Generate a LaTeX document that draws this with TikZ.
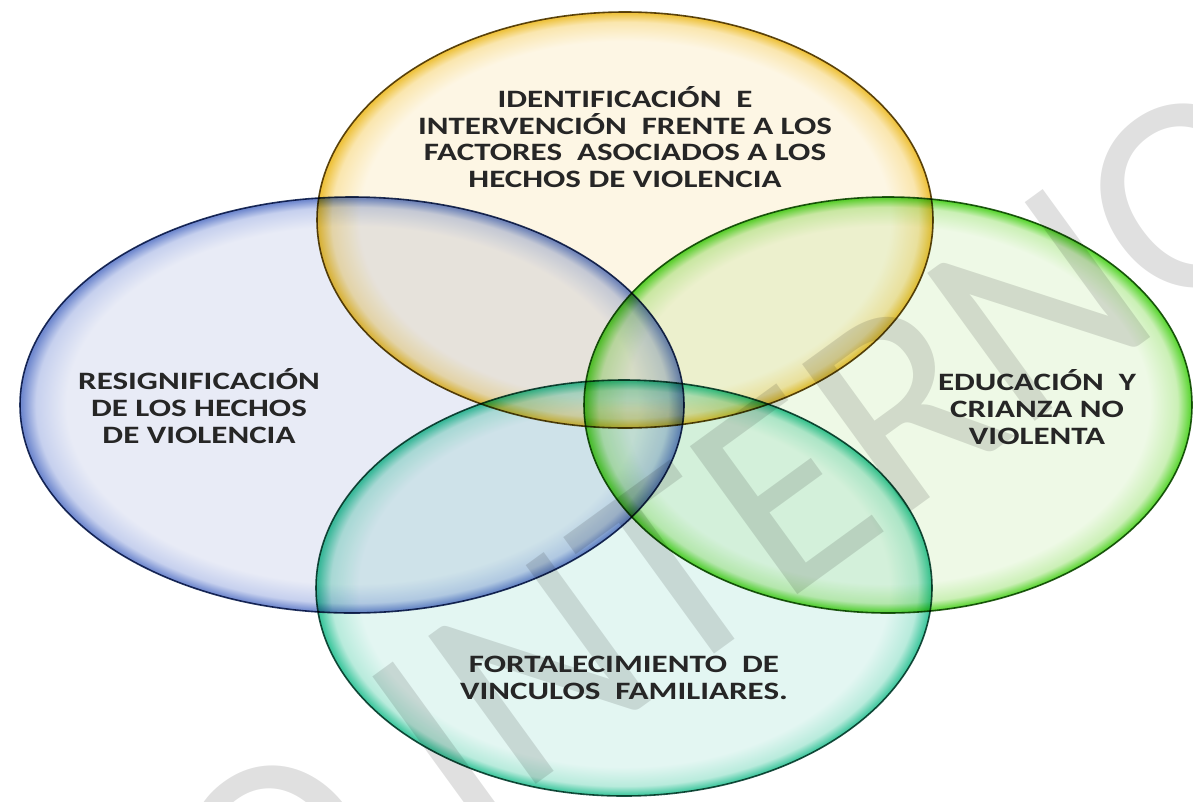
\documentclass[tikz,border=0pt]{standalone}
\usepackage{fontspec}
\setmainfont[FakeStretch=1.32]{Carlito}
\newfontfamily\wmfont{Carlito}
\definecolor{yin}{HTML}{FDF6E4}
\definecolor{ymid}{HTML}{FAE6AE}
\definecolor{yout}{HTML}{EEC23C}
\definecolor{yline}{HTML}{5E4C14}
\definecolor{bin}{HTML}{E8EBF6}
\definecolor{bmid}{HTML}{C6D0EE}
\definecolor{bout}{HTML}{6F88CE}
\definecolor{bline}{HTML}{22335F}
\definecolor{gin}{HTML}{EEF9E6}
\definecolor{gmid}{HTML}{CBF0B6}
\definecolor{gout}{HTML}{5CD634}
\definecolor{gline}{HTML}{275E18}
\definecolor{tin}{HTML}{E3F6F2}
\definecolor{tmid}{HTML}{B8EBDC}
\definecolor{tout}{HTML}{3EC79E}
\definecolor{tline}{HTML}{1E5246}
\definecolor{txt}{HTML}{262626}
\pgfdeclareradialshading{yshade}{\pgfpoint{0bp}{0bp}}{color(0bp)=(yin); color(21.5bp)=(yin); color(23.8bp)=(ymid); color(24.9bp)=(yout); color(25bp)=(yout); color(50bp)=(yout)}
\pgfdeclareradialshading{bshade}{\pgfpoint{0bp}{0bp}}{color(0bp)=(bin); color(21.5bp)=(bin); color(23.8bp)=(bmid); color(24.9bp)=(bout); color(25bp)=(bout); color(50bp)=(bout)}
\pgfdeclareradialshading{gshade}{\pgfpoint{0bp}{0bp}}{color(0bp)=(gin); color(21.5bp)=(gin); color(23.8bp)=(gmid); color(24.9bp)=(gout); color(25bp)=(gout); color(50bp)=(gout)}
\pgfdeclareradialshading{tshade}{\pgfpoint{0bp}{0bp}}{color(0bp)=(tin); color(21.5bp)=(tin); color(23.8bp)=(tmid); color(24.9bp)=(tout); color(25bp)=(tout); color(50bp)=(tout)}
\tikzset{
  ring/.style={line width=1.6pt},
  lbl/.style={align=center, text=txt, font=\bfseries\fontsize{25}{26.8}\selectfont, inner sep=0pt},
  wm/.style={font=\wmfont\fontsize{285}{285}\selectfont, text=black, opacity=0.12, rotate=36, inner sep=0pt}
}
\begin{document}
\begin{tikzpicture}[x=1pt,y=-1pt]
\useasboundingbox (0,0) rectangle (1193,801);
\fill[white] (0,0) rectangle (1193,801);
\begin{scope}[blend group=multiply]
  \path[shading=yshade, draw=yline, ring] (625,220) ellipse [x radius=308, y radius=208];
  \path[shading=bshade, draw=bline, ring] (352,405) ellipse [x radius=332, y radius=208];
  \path[shading=gshade, draw=gline, ring] (888,405) ellipse [x radius=304, y radius=208];
  \path[shading=tshade, draw=tline, ring] (624,588) ellipse [x radius=308, y radius=208];
\end{scope}
\begin{scope}
  \clip (0,0) rectangle (1193,801);
  \node[wm] (wmark) at (608,619) {USO INTERNO};
\end{scope}
\node[lbl] (ident) at (625,137) {IDENTIFICACIÓN\ \ E\\INTERVENCIÓN\ \ FRENTE A LOS\\FACTORES\ \ ASOCIADOS A LOS\\HECHOS DE VIOLENCIA};
\node[lbl] (resig) at (199,406) {RESIGNIFICACIÓN\\DE LOS HECHOS\\DE VIOLENCIA};
\node[lbl] (educ) at (1037,407) {EDUCACIÓN\ \ Y\\CRIANZA NO\\VIOLENTA};
\node[lbl] (fort) at (624,678) {FORTALECIMIENTO\ \ DE\\VINCULOS\ \ FAMILIARES.};
\end{tikzpicture}
\end{document}
